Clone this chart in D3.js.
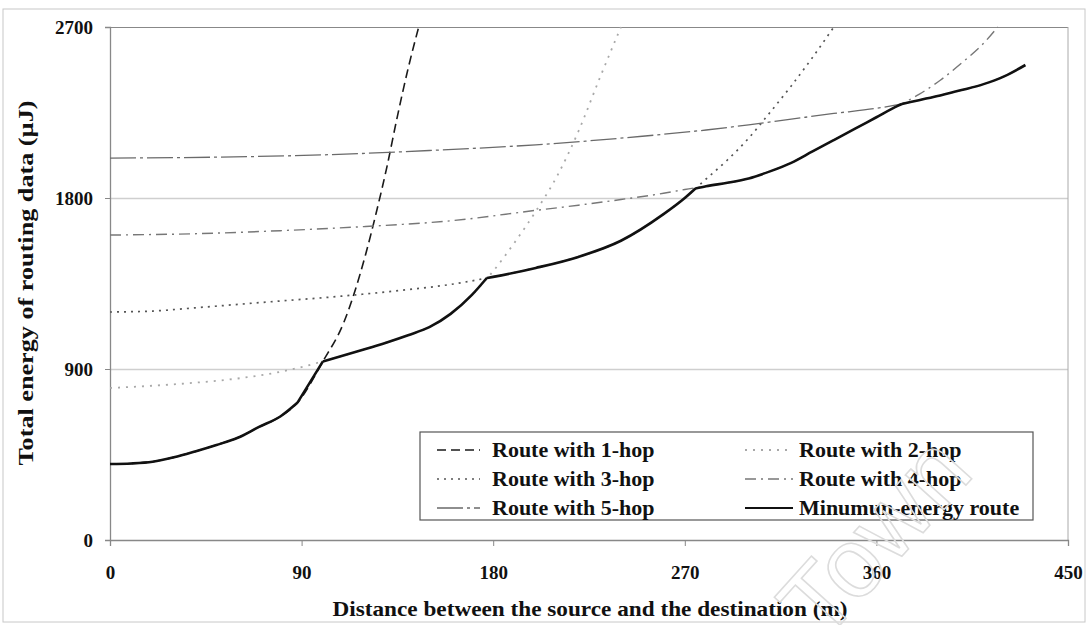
<!DOCTYPE html>
<html>
<head>
<meta charset="utf-8">
<script src="https://cdn.jsdelivr.net/npm/d3@7"></script>
<style>
body { margin: 0; background: #fff; }
svg text { font-family: "Liberation Serif", "Times New Roman", serif; font-weight: bold; fill: #111; }
</style>
</head>
<body>
<svg id="graph"></svg>
<script>
// values (distance in m, energy in uJ)
var hop1Dist = [0, 10, 20, 30, 40, 50, 60, 70, 80, 88, 100, 110, 120, 125, 130, 135, 140, 145];
var hop1Energy = [400, 403, 412, 435, 466, 500, 538, 595, 650, 722, 940, 1150, 1500, 1720, 1960, 2230, 2480, 2700];

var hop2Dist = [0, 20, 40, 60, 80, 100, 110, 120, 130, 140, 150, 160, 170, 180, 190, 200, 210, 220, 230, 240];
var hop2Energy = [800, 812, 828, 850, 885, 940, 972, 1005, 1040, 1078, 1120, 1190, 1290, 1415, 1565, 1730, 1915, 2150, 2430, 2700];

var hop3Dist = [0, 20, 40, 60, 80, 100, 120, 140, 160, 180, 200, 220, 240, 260, 270, 280, 290, 300, 310, 320, 330, 340];
var hop3Energy = [1200, 1205, 1222, 1240, 1258, 1275, 1295, 1318, 1345, 1385, 1432, 1490, 1575, 1715, 1800, 1900, 2000, 2115, 2250, 2390, 2540, 2700];

var hop4Dist = [0, 40, 80, 120, 160, 200, 220, 240, 260, 270, 280, 290, 300, 310, 320, 330, 340, 350, 360, 370, 380, 390, 400, 410, 417];
var hop4Energy = [1605, 1612, 1628, 1650, 1680, 1735, 1762, 1792, 1825, 1845, 1862, 1880, 1903, 1940, 1985, 2045, 2105, 2165, 2225, 2285, 2345, 2420, 2510, 2610, 2700];

var hop5Dist = [0, 50, 100, 150, 200, 250, 280, 300, 320, 340, 360, 372, 380, 390, 400, 410, 420, 430];
var hop5Energy = [2010, 2015, 2027, 2050, 2080, 2125, 2158, 2185, 2215, 2245, 2272, 2295, 2315, 2340, 2368, 2398, 2440, 2500];

var minDist = [0, 10, 20, 30, 40, 50, 60, 70, 80, 88, 100, 110, 120, 130, 140, 150, 160, 170, 177, 180, 200, 220, 240, 260, 270, 275,
    280, 290, 300, 310, 320, 330, 340, 350, 360, 370, 372, 380, 390, 400, 410, 420, 430];
var minEnergy = [400, 403, 412, 435, 466, 500, 538, 595, 650, 722, 940, 972, 1005, 1040, 1078, 1120, 1190, 1290, 1379, 1385, 1432, 1490, 1575, 1715, 1800, 1850,
    1862, 1880, 1903, 1940, 1985, 2045, 2105, 2165, 2225, 2285, 2295, 2315, 2340, 2368, 2398, 2440, 2500];
// corners of the minimum-energy curve (where the best hop count changes)
var minCorners = [88, 100, 177, 275, 372];

var seriesNames = ["Route with 1-hop", "Route with 2-hop", "Route with 3-hop", "Route with 4-hop", "Route with 5-hop", "Minumun-energy route"];
var xTicks = [0, 90, 180, 270, 360, 450];
var yTicks = [0, 900, 1800, 2700];

var width = 1086, height = 625;
var plotLeft = 110, plotRight = 1068, plotTop = 27, plotBottom = 540;

var x = d3.scaleLinear().domain([0, 450]).range([plotLeft, plotRight]);
var y = d3.scaleLinear().domain([0, 2700]).range([plotBottom, plotTop]);

var svg = d3.select("#graph")
    .attr("width", width)
    .attr("height", height);

// outer frame
svg.append("rect")
    .attr("x", 3).attr("y", 9)
    .attr("width", 1082).attr("height", 613)
    .attr("fill", "none").attr("stroke", "#c8c8c8");

// grid lines
svg.append("g")
    .attr("transform", "translate(" + plotLeft + ",0)")
    .call(d3.axisLeft(y).tickValues([900, 1800, 2700]).tickSize(-(plotRight - plotLeft)).tickFormat(""))
    .call(function (g) {
        g.select(".domain").remove();
        g.selectAll(".tick line")
            .attr("stroke", function (d) { return d === 2700 ? "#888" : "#cfcfcf"; })
            .attr("stroke-width", function (d) { return d === 2700 ? 1.2 : 1.5; });
    });

// right border of plot area
svg.append("line")
    .attr("x1", plotRight).attr("x2", plotRight)
    .attr("y1", plotTop).attr("y2", plotBottom)
    .attr("stroke", "#aaa");

// axes
var xAxis = svg.append("g")
    .attr("transform", "translate(0," + plotBottom + ")")
    .call(d3.axisBottom(x).tickValues(xTicks).tickFormat(d3.format("d")).tickSize(6).tickPadding(20));
var yAxis = svg.append("g")
    .attr("transform", "translate(" + plotLeft + ",0)")
    .call(d3.axisLeft(y).tickValues(yTicks).tickFormat(d3.format("d")).tickSize(5).tickPadding(12));

[xAxis, yAxis].forEach(function (g) {
    g.select(".domain").attr("stroke", "#888").attr("stroke-width", 1.3);
    g.selectAll(".tick line").attr("stroke", "#888");
    g.selectAll(".tick text").style("font-size", "19px").attr("fill", "#111");
});

// axis titles
svg.append("text")
    .attr("x", 590).attr("y", 616)
    .attr("text-anchor", "middle")
    .attr("textLength", 515).attr("lengthAdjust", "spacingAndGlyphs")
    .style("font-size", "22px")
    .text("Distance between the source and the destination (m)");

svg.append("text")
    .attr("transform", "translate(33,283) rotate(-90)")
    .attr("text-anchor", "middle")
    .attr("textLength", 365).attr("lengthAdjust", "spacingAndGlyphs")
    .style("font-size", "22px")
    .text("Total energy of routing data (\u00b5J)");

// lines
var styles = [
    { color: "#1a1a1a", width: 1.6, dash: "9,5" },
    { color: "#a8a8a8", width: 1.8, dash: "2,6" },
    { color: "#555", width: 1.7, dash: "2,5" },
    { color: "#777", width: 1.4, dash: "11,5,2,5" },
    { color: "#6a6a6a", width: 1.3, dash: "26,4,3,4" },
    { color: "#111", width: 2.6, dash: null }
];
var series = [
    { dist: hop1Dist, energy: hop1Energy },
    { dist: hop2Dist, energy: hop2Energy },
    { dist: hop3Dist, energy: hop3Energy },
    { dist: hop4Dist, energy: hop4Energy },
    { dist: hop5Dist, energy: hop5Energy },
    { dist: minDist, energy: minEnergy }
];

svg.append("clipPath").attr("id", "plotclip")
    .append("rect")
    .attr("x", plotLeft).attr("y", plotTop - 2)
    .attr("width", plotRight - plotLeft).attr("height", plotBottom - plotTop + 2);

var plot = svg.append("g").attr("clip-path", "url(#plotclip)");

var line = d3.line()
    .x(function (d) { return x(d[0]); })
    .y(function (d) { return y(d[1]); })
    .curve(d3.curveMonotoneX);

series.forEach(function (s, i) {
    var pts = d3.zip(s.dist, s.energy);
    var pieces = [pts];
    if (i === 5) {
        // smooth between corners, keep the corners sharp
        pieces = [];
        var cur = [];
        pts.forEach(function (p) {
            cur.push(p);
            if (minCorners.indexOf(p[0]) >= 0) {
                pieces.push(cur);
                cur = [p];
            }
        });
        pieces.push(cur);
    }
    var d = pieces.map(function (pc) { return line(pc); }).join("");
    plot.append("path")
        .attr("d", d)
        .attr("fill", "none")
        .attr("stroke", styles[i].color)
        .attr("stroke-width", styles[i].width)
        .attr("stroke-dasharray", styles[i].dash)
        .attr("stroke-linejoin", "round");
});

// legend
var legend = svg.append("g");
legend.append("rect")
    .attr("x", 420).attr("y", 432)
    .attr("width", 613).attr("height", 88)
    .attr("fill", "#fff").attr("stroke", "#555").attr("stroke-width", 1.2);

var item = legend.selectAll("g.item")
    .data(seriesNames)
    .enter().append("g")
    .attr("class", "item")
    .attr("transform", function (d, i) {
        var col = i % 2, row = Math.floor(i / 2);
        return "translate(" + (col === 0 ? 437 : 745) + "," + (457 + row * 29) + ")";
    });

item.append("line")
    .attr("x1", 0)
    .attr("x2", function (d, i) { return i % 2 === 0 ? 43 : 48; })
    .attr("y1", -7).attr("y2", -7)
    .attr("stroke", function (d, i) { return styles[i].color; })
    .attr("stroke-width", function (d, i) { return Math.min(styles[i].width, 2); })
    .attr("stroke-dasharray", function (d, i) { return styles[i].dash; });

item.append("text")
    .attr("x", function (d, i) { return i % 2 === 0 ? 55 : 54; })
    .attr("y", 0)
    .style("font-size", "22px")
    .text(function (d) { return d; });

// faint watermark
svg.append("text")
    .attr("transform", "translate(874,536) rotate(-48)")
    .attr("text-anchor", "middle")
    .attr("dy", "0.35em")
    .style("font-family", "'Liberation Sans', Arial, sans-serif")
    .style("font-weight", "normal")
    .style("font-size", "98px")
    .style("fill", "none")
    .style("stroke", "#dcdcdc")
    .style("stroke-width", 1.6)
    .text("Town");
</script>
</body>
</html>
